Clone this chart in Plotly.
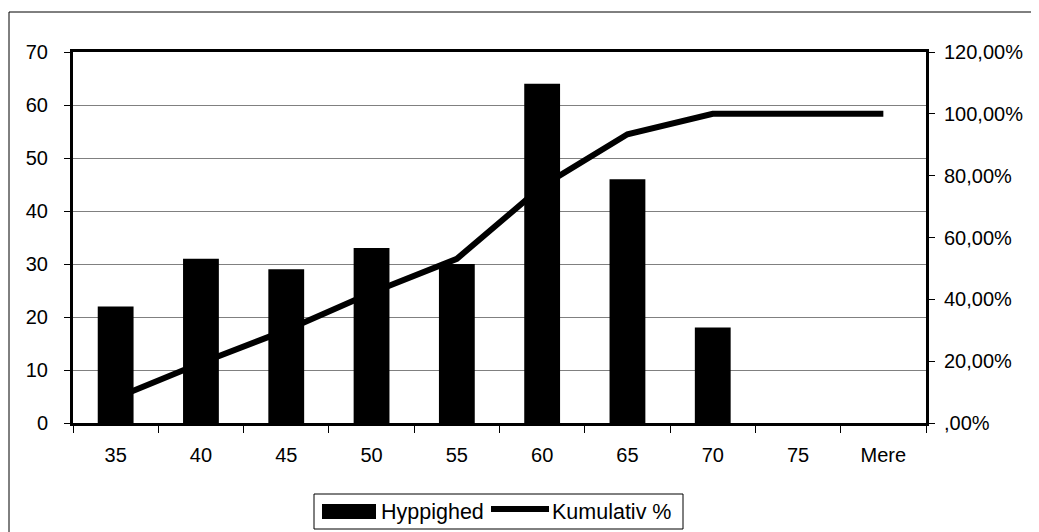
import plotly.graph_objects as go

# ---- data ----
categories = ["35", "40", "45", "50", "55", "60", "65", "70", "75", "Mere"]
hyppighed = [22, 31, 29, 33, 30, 64, 46, 18, 0, 0]
kumulativ = [0.0806, 0.1941, 0.3004, 0.4212, 0.5311, 0.7656, 0.9341, 1.0, 1.0, 1.0]
y_left_ticks = [0, 10, 20, 30, 40, 50, 60, 70]
y_right_ticks = [0, 0.2, 0.4, 0.6, 0.8, 1.0, 1.2]
y_right_labels = [",00%", "20,00%", "40,00%", "60,00%", "80,00%", "100,00%", "120,00%"]

# page has an 8px body margin; lay the figure out in page pixels and offset
OFF = 8
W, H = 1039 - OFF, 532 - OFF
L, R, T, B = 73, 926, 52, 423  # plot area in page pixels
FONT = "Liberation Sans, Arial, sans-serif"


def px(x):
    return (x - L) / (R - L)


def py(y):
    return (B - y) / (B - T)


fig = go.Figure()
fig.add_trace(go.Bar(x=categories, y=hyppighed, name="Hyppighed",
                     marker=dict(color="black", line=dict(width=0)),
                     showlegend=False, yaxis="y"))
fig.add_trace(go.Scatter(x=categories, y=kumulativ, name="Kumulativ %",
                         mode="lines", line=dict(color="black", width=6),
                         showlegend=False, yaxis="y2"))

shapes = [
    # outer chart border (right and bottom edges fall outside the view)
    dict(type="rect", xref="paper", yref="paper", x0=px(9), x1=px(1060), y0=py(560), y1=py(12),
         line=dict(color="black", width=1), fillcolor="rgba(0,0,0,0)", layer="below"),
    # legend box
    dict(type="rect", xref="paper", yref="paper", x0=px(314), x1=px(683), y0=py(529), y1=py(494),
         line=dict(color="black", width=1), fillcolor="white"),
    # legend bar symbol
    dict(type="rect", xref="paper", yref="paper", x0=px(322), x1=px(376), y0=py(519), y1=py(504),
         line=dict(width=0), fillcolor="black"),
    # legend line symbol
    dict(type="line", xref="paper", yref="paper", x0=px(491), x1=px(549), y0=py(509), y1=py(509),
         line=dict(color="black", width=6)),
]
annotations = [
    dict(xref="paper", yref="paper", x=px(379), y=py(512), text="Hyppighed", showarrow=False,
         xanchor="left", yanchor="middle", font=dict(family=FONT, size=21.5, color="black")),
    dict(xref="paper", yref="paper", x=px(550), y=py(512), text="Kumulativ %", showarrow=False,
         xanchor="left", yanchor="middle", font=dict(family=FONT, size=21.5, color="black")),
]

fig.update_layout(
    width=W, height=H,
    margin=dict(l=L - OFF, r=W - (R - OFF), t=T - OFF, b=H - (B - OFF), pad=0),
    paper_bgcolor="white", plot_bgcolor="white",
    font=dict(family=FONT, size=20, color="black"),
    bargap=0.58,
    shapes=shapes, annotations=annotations,
    xaxis=dict(type="category", showgrid=False, showline=True, linecolor="black", linewidth=3,
               mirror=True, ticks="outside", tickson="boundaries", ticklen=7, tickcolor="black",
               tickwidth=1, ticklabelstandoff=12, tickfont=dict(size=20)),
    yaxis=dict(range=[0, 70], tickvals=y_left_ticks, showgrid=True, gridcolor="#808080", gridwidth=1,
               showline=True, linecolor="black", linewidth=3, ticks="outside", ticklen=6,
               tickcolor="black", tickwidth=1, ticklabelstandoff=12, zeroline=False,
               tickfont=dict(size=20)),
    yaxis2=dict(range=[0, 1.2], overlaying="y", side="right", tickvals=y_right_ticks,
                ticktext=y_right_labels, showgrid=False, showline=True, linecolor="black",
                linewidth=3, ticks="outside", ticklen=6, tickcolor="black", tickwidth=1,
                ticklabelstandoff=5, zeroline=False, tickfont=dict(size=20)),
)

fig.write_html("out.html")
